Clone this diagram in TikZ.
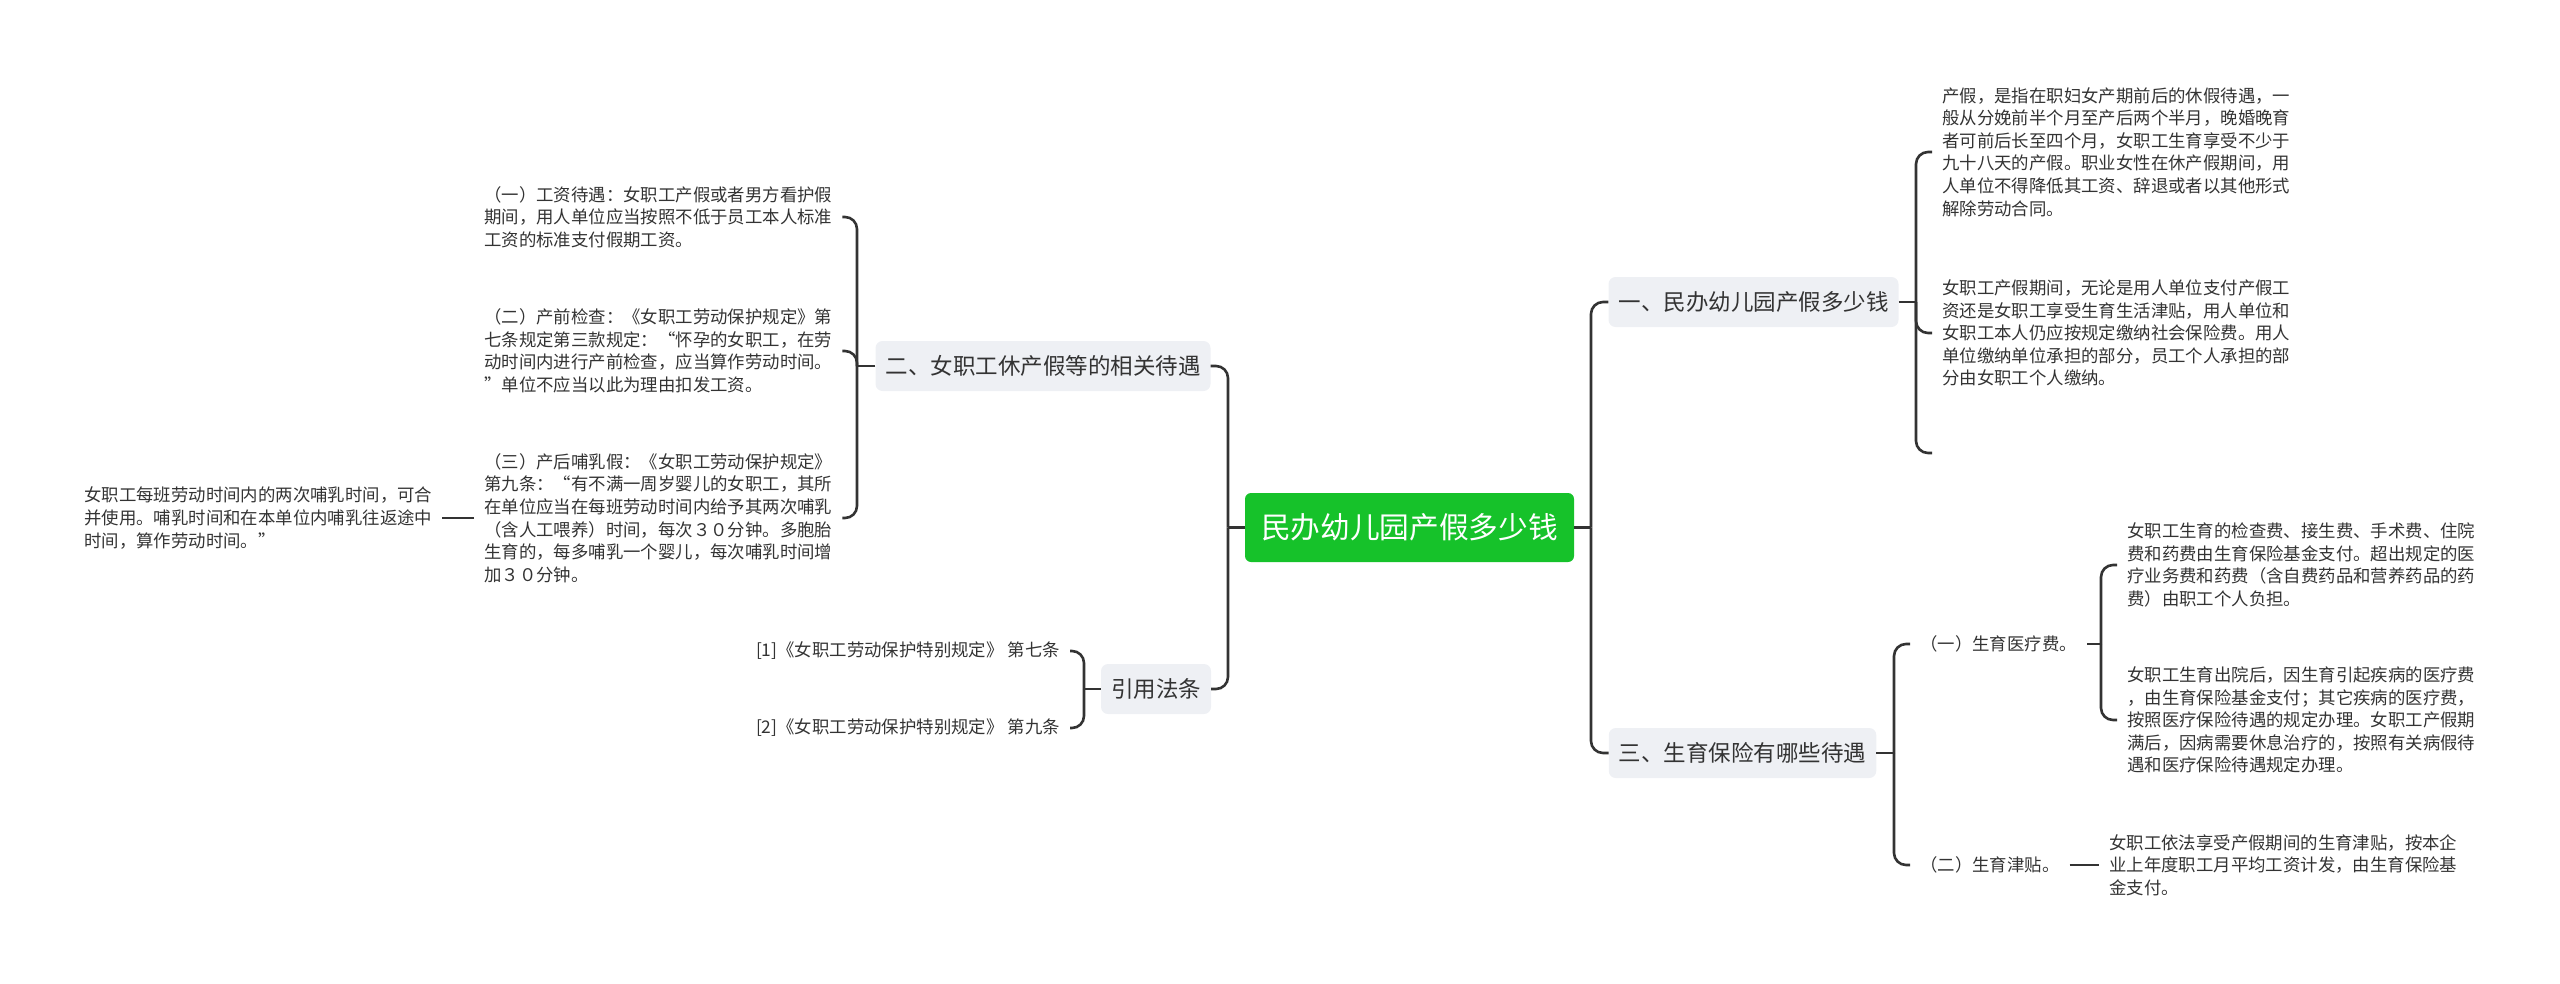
\documentclass[tikz,border=0pt]{standalone}
\usepackage{fontspec}
\setmainfont{Noto Sans CJK SC}
\definecolor{lc}{HTML}{333333}
\definecolor{cg}{HTML}{16C22A}
\definecolor{bg}{HTML}{EEF0F4}
\definecolor{tc}{HTML}{333333}
\begin{document}
\begin{tikzpicture}[x=1pt,y=-1pt,
  conn/.style={draw=lc, line width=2.6pt, rounded corners=12pt},
  rootbox/.style={fill=cg, rounded corners=6pt, text=white, font=\fontsize{29.7}{36}\selectfont, inner xsep=16pt, minimum height=69pt},
  branchbox/.style={fill=bg, rounded corners=7pt, text=tc, font=\fontsize{22.5}{27}\selectfont, inner xsep=10pt, minimum height=50pt},
  leaf/.style={text=tc, font=\fontsize{17.4}{22.6}\selectfont, align=left, inner xsep=10pt, inner ysep=2pt},
]
\useasboundingbox (0,0) rectangle (2560,983);

% main nodes
\node[rootbox] (root) at (1409.5,527.5) {民办幼儿园产假多少钱};
\node[branchbox] (b1) at (1753.5,302) {一、民办幼儿园产假多少钱};
\node[branchbox] (b3) at (1742.5,753) {三、生育保险有哪些待遇};
\node[branchbox] (b2) at (1043,366) {二、女职工休产假等的相关待遇};
\node[branchbox] (ref) at (1156,689) {引用法条};

% left leaves
\node[leaf, anchor=west] (l1) at (474,217) {（一）工资待遇：女职工产假或者男方看护假\\期间，用人单位应当按照不低于员工本人标准\\工资的标准支付假期工资。};
\node[leaf, anchor=west] (l2) at (474,351) {（二）产前检查：《女职工劳动保护规定》第\\七条规定第三款规定：“怀孕的女职工，在劳\\动时间内进行产前检查，应当算作劳动时间。\\”单位不应当以此为理由扣发工资。};
\node[leaf, anchor=west] (l3) at (474,518) {（三）产后哺乳假：《女职工劳动保护规定》\\第九条：“有不满一周岁婴儿的女职工，其所\\在单位应当在每班劳动时间内给予其两次哺乳\\（含人工喂养）时间，每次３０分钟。多胞胎\\生育的，每多哺乳一个婴儿，每次哺乳时间增\\加３０分钟。};
\node[leaf, anchor=west] (l3a) at (74,518) {女职工每班劳动时间内的两次哺乳时间，可合\\并使用。哺乳时间和在本单位内哺乳往返途中\\时间，算作劳动时间。”};
\node[leaf, anchor=east] (r1) at (1070,651) {[1]《女职工劳动保护特别规定》 第七条};
\node[leaf, anchor=east] (r2) at (1070,728) {[2]《女职工劳动保护特别规定》 第九条};

% right leaves
\node[leaf, anchor=west] (b1c1) at (1932,152) {产假，是指在职妇女产期前后的休假待遇，一\\般从分娩前半个月至产后两个半月，晚婚晚育\\者可前后长至四个月，女职工生育享受不少于\\九十八天的产假。职业女性在休产假期间，用\\人单位不得降低其工资、辞退或者以其他形式\\解除劳动合同。};
\node[leaf, anchor=west] (b1c2) at (1932,333) {女职工产假期间，无论是用人单位支付产假工\\资还是女职工享受生育生活津贴，用人单位和\\女职工本人仍应按规定缴纳社会保险费。用人\\单位缴纳单位承担的部分，员工个人承担的部\\分由女职工个人缴纳。};
\coordinate (b1c3) at (1932,453);
\node[leaf, anchor=west] (m1) at (1910,644) {（一）生育医疗费。};
\node[leaf, anchor=west] (m2) at (1910,865) {（二）生育津贴。};
\node[leaf, anchor=west] (m1a) at (2117,565) {女职工生育的检查费、接生费、手术费、住院\\费和药费由生育保险基金支付。超出规定的医\\疗业务费和药费（含自费药品和营养药品的药\\费）由职工个人负担。};
\node[leaf, anchor=west] (m1b) at (2117,720) {女职工生育出院后，因生育引起疾病的医疗费\\，由生育保险基金支付；其它疾病的医疗费，\\按照医疗保险待遇的规定办理。女职工产假期\\满后，因病需要休息治疗的，按照有关病假待\\遇和医疗保险待遇规定办理。};
\node[leaf, anchor=west] (m2a) at (2099,865) {女职工依法享受产假期间的生育津贴，按本企\\业上年度职工月平均工资计发，由生育保险基\\金支付。};

% junction coordinates
\coordinate (sl) at (1228,527.5);
\coordinate (sr) at (1591,527.5);
\coordinate (b1s) at (1916,302);
\coordinate (b2s) at (857,366);
\coordinate (rs) at (1084,689);
\coordinate (b3s) at (1894,753);
\coordinate (m1s) at (2101,644);

% connectors
\draw[conn] (root.west) -- (sl);
\draw[conn] (sl) |- (b2.east);
\draw[conn] (sl) |- (ref.east);
\draw[conn] (root.east) -- (sr);
\draw[conn] (sr) |- (b1.west);
\draw[conn] (sr) |- (b3.west);

\draw[conn] (b1.east) -- (b1s);
\draw[conn] (b1s) |- (b1c1.west);
\draw[conn] (b1s) |- (b1c2.west);
\draw[conn] (b1s) |- (b1c3);

\draw[conn] (b2.west) -- (b2s);
\draw[conn] (b2s) |- (l1.east);
\draw[conn] (b2s) |- (l2.east);
\draw[conn] (b2s) |- (l3.east);
\draw[conn] (l3.west) -- (l3a.east);

\draw[conn] (ref.west) -- (rs);
\draw[conn] (rs) |- (r1.east);
\draw[conn] (rs) |- (r2.east);

\draw[conn] (b3.east) -- (b3s);
\draw[conn] (b3s) |- (m1.west);
\draw[conn] (b3s) |- (m2.west);
\draw[conn] (m1.east) -- (m1s);
\draw[conn] (m1s) |- (m1a.west);
\draw[conn] (m1s) |- (m1b.west);
\draw[conn] (m2.east) -- (m2a.west);
\end{tikzpicture}
\end{document}
